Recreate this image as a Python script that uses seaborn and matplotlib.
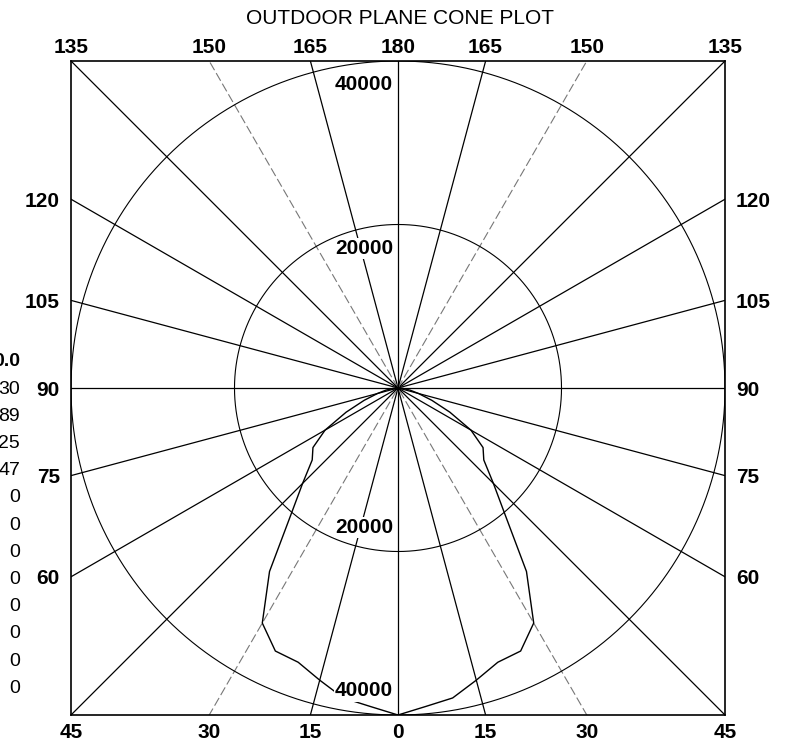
import numpy as np
import pandas as pd
import matplotlib
matplotlib.use("Agg")
import matplotlib.pyplot as plt
import seaborn as sns


sns.set_theme(style="white")
plt.rcParams["font.family"] = ["Liberation Sans", "DejaVu Sans"]
plt.rcParams["text.color"] = "black"

TITLE = "OUTDOOR PLANE CONE PLOT"

# vertical angle from nadir (deg) and candela, same on both sides of 0
angles = [0, 5, 10, 15, 20, 25, 30, 35, 40, 45, 50, 55, 60, 65, 70, 75, 80, 85, 90]
candela = [40000, 39100, 38500, 37000, 35700, 35500, 33200, 27400, 20500, 16500,
           13700, 12700, 10300, 7000, 4400, 2600, 1500, 600, 0]

ring_values = [20000, 40000]
spoke_angles = [0, 15, 30, 45, 60, 75, 90, 105, 120, 135, 150, 165]
light_spokes = [30, 150]

bottom_angles = [-45, -30, -15, 0, 15, 30, 45]
bottom_labels = ["45", "30", "15", "0", "15", "30", "45"]
top_labels = ["135", "150", "165", "180", "165", "150", "135"]
side_angles = [60, 75, 90, 105, 120]
side_labels = ["60", "75", "90", "105", "120"]

# cut-off column of numbers at the left edge of the page
side_table = ["0.0", "30", "89", "25", "47", "0", "0", "0", "0", "0", "0", "0", "0"]

R_MAX = 40000


def to_xy(theta_deg, value):
    t = np.radians(theta_deg)
    return np.asarray(value) * np.sin(t), -np.asarray(value) * np.cos(t)


fig = plt.figure(figsize=(7.94, 7.47), dpi=100)
W, H = 794, 747
ax = fig.add_axes([71 / W, (H - 715) / H, 654 / W, 654 / H])
ax.set_xlim(-R_MAX, R_MAX)
ax.set_ylim(-R_MAX, R_MAX)
ax.set_facecolor("white")

# spokes every 15 degrees, clipped by the square frame
for a in spoke_angles:
    x, y = to_xy(a, np.array([-2 * R_MAX, 2 * R_MAX]))
    if a in light_spokes:
        ax.plot(x, y, color="#777777", lw=0.8, ls=(0, (8, 3)), zorder=1)
    else:
        ax.plot(x, y, color="black", lw=0.9, zorder=1)

# candela rings
ring_t = np.linspace(0, 360, 721)
for v in ring_values:
    x, y = to_xy(ring_t, v)
    ax.plot(x, y, color="black", lw=0.8, zorder=1)
    for sign in (1, -1):
        ax.annotate(f"{v}", xy=(0, sign * v), xytext=(-5, -sign * 24),
                    textcoords="offset pixels", ha="right", va="center",
                    fontsize=15, fontweight="bold", color="black",
                    bbox=dict(boxstyle="square,pad=0.05", fc="white", ec="none"),
                    zorder=3)

# distribution curve, mirrored about nadir
theta = [-a for a in angles[::-1]] + angles[1:]
vals = candela[::-1] + candela[1:]
cx, cy = to_xy(np.array(theta), np.array(vals))
curve = pd.DataFrame({"x": cx, "y": cy})
sns.lineplot(data=curve, x="x", y="y", sort=False, estimator=None,
             color="black", lw=1.0, ax=ax, zorder=2)

ax.set_xlabel("")
ax.set_ylabel("")

# angle labels along the frame
xt = R_MAX * np.tan(np.radians(bottom_angles))
ax.set_xticks(xt, bottom_labels)
yt = -R_MAX / np.tan(np.radians(side_angles))
ax.set_yticks(yt, side_labels)
ax.tick_params(axis="both", length=0, labelsize=15, colors="black")
ax.tick_params(axis="x", pad=6)
ax.tick_params(axis="y", pad=8, labelright=True)
for lab in ax.get_xticklabels() + ax.get_yticklabels():
    lab.set_fontweight("bold")

top = ax.secondary_xaxis("top")
top.set_xticks(xt, top_labels)
top.tick_params(length=0, labelsize=15, pad=3, colors="black")
for lab in top.get_xticklabels():
    lab.set_fontweight("bold")
top.spines["top"].set_visible(False)

for s in ax.spines.values():
    s.set_visible(True)
    s.set_color("black")
    s.set_linewidth(1.2)

fig.text(400 / W, 1 - 18 / H, TITLE, ha="center", va="center", fontsize=15,
         color="black")

for i, txt in enumerate(side_table):
    fig.text(20 / W, 1 - (362 + i * 27.2) / H, txt, ha="right", va="center",
             fontsize=14, color="black",
             fontweight="bold" if i == 0 else "normal")

fig.savefig("out.png", dpi=100)
plt.close(fig)
